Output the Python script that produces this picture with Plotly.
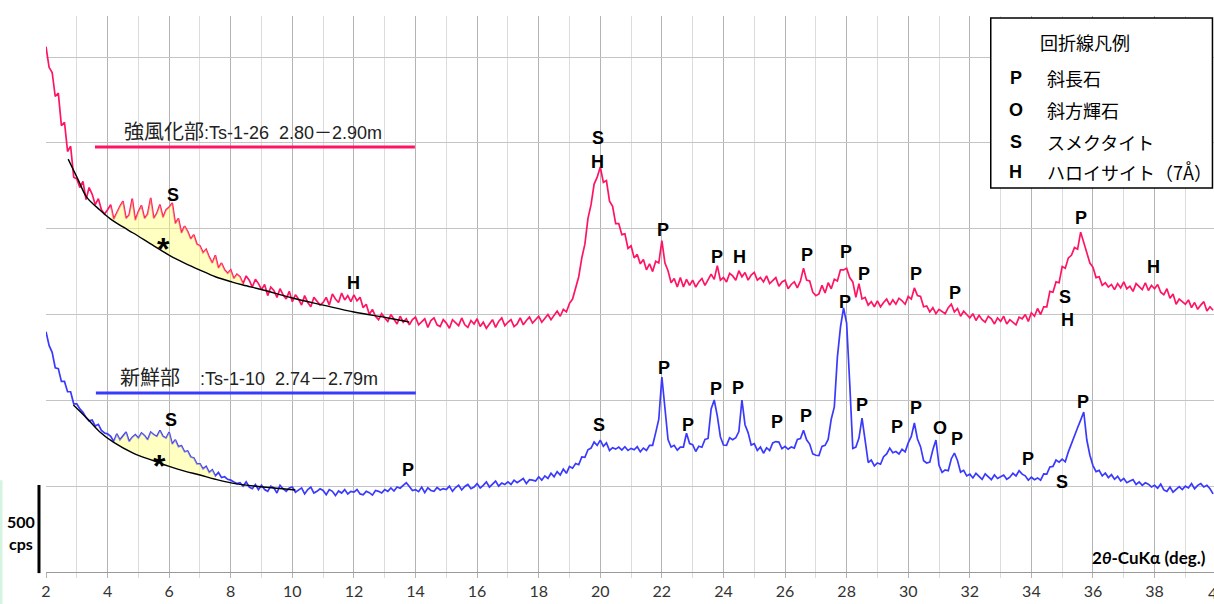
import numpy as np
import plotly.graph_objects as go

# --- scan geometry -------------------------------------------------------
TWO_THETA_START = 2.0
TWO_THETA_STEP = 0.1

# --- intensities (cps), 10 points per degree, 2.0 .. 39.9 deg -------------
weathered_cps = [
    3060, 2940, 2910, 2770, 2790, 2600, 2620, 2450, 2480, 2300,   # 2
    2290, 2240, 2275, 2170, 2240, 2200, 2140, 2175, 2110, 2085,   # 3
    2110, 2140, 2055, 2095, 2130, 2160, 2060, 2080, 2175, 2050,   # 4
    2100, 2135, 2060, 2085, 2180, 2060, 2090, 2140, 2065, 2110,   # 5
    2125, 2150, 2030, 2060, 1975, 2015, 1985, 1940, 1965, 1910,   # 6
    1900, 1860, 1880, 1835, 1800, 1845, 1770, 1800, 1760, 1740,   # 7
    1760, 1710, 1735, 1720, 1680, 1725, 1700, 1660, 1705, 1680,   # 8
    1645, 1675, 1610, 1660, 1640, 1600, 1650, 1615, 1590, 1635,   # 9
    1575, 1615, 1590, 1555, 1610, 1570, 1545, 1600, 1580, 1555,   # 10
    1570, 1600, 1555, 1620, 1590, 1570, 1625, 1585, 1610, 1575,   # 11
    1615, 1580, 1600, 1540, 1560, 1500, 1530, 1490, 1470, 1505,   # 12
    1480, 1460, 1500, 1470, 1445, 1490, 1455, 1475, 1440, 1470,   # 13
    1485, 1440, 1455, 1475, 1425, 1465, 1480, 1440, 1430, 1470,   # 14
    1450, 1420, 1470, 1455, 1435, 1480, 1440, 1425, 1465, 1445,   # 15
    1475, 1430, 1455, 1420, 1445, 1470, 1425, 1460, 1480, 1435,   # 16
    1455, 1470, 1430, 1445, 1480, 1440, 1465, 1485, 1450, 1470,   # 17
    1490, 1455, 1475, 1500, 1470, 1495, 1520, 1490, 1530, 1515,   # 18
    1565, 1590, 1650, 1720, 1830, 1910, 2060, 2140, 2260, 2300,   # 19
    2360, 2270, 2280, 2160, 2130, 2030, 2030, 1965, 1970, 1885,   # 20
    1900, 1830, 1850, 1795, 1820, 1760, 1795, 1750, 1810, 1800,   # 21
    1930, 1800, 1755, 1685, 1710, 1660, 1715, 1660, 1705, 1670,   # 22
    1700, 1660, 1690, 1710, 1670, 1700, 1735, 1705, 1785, 1700,   # 23
    1715, 1690, 1740, 1725, 1700, 1755, 1720, 1745, 1700, 1730,   # 24
    1745, 1700, 1715, 1690, 1725, 1680, 1700, 1715, 1665, 1690,   # 25
    1700, 1650, 1675, 1690, 1655, 1695, 1770, 1700, 1695, 1630,   # 26
    1610, 1620, 1670, 1625, 1685, 1650, 1705, 1695, 1760, 1760,   # 27
    1770, 1715, 1690, 1600, 1680, 1590, 1600, 1555, 1575, 1545,   # 28
    1580, 1545, 1570, 1590, 1555, 1585, 1560, 1595, 1580, 1560,   # 29
    1605, 1590, 1655, 1610, 1605, 1545, 1550, 1515, 1540, 1505,   # 30
    1530, 1520, 1505, 1540, 1560, 1515, 1535, 1490, 1520, 1500,   # 31
    1480, 1505, 1465, 1495, 1470, 1455, 1490, 1475, 1445, 1480,   # 32
    1460, 1490, 1445, 1470, 1455, 1440, 1485, 1475, 1500, 1460,   # 33
    1510, 1490, 1535, 1500, 1545, 1545, 1635, 1630, 1690, 1685,   # 34
    1780, 1770, 1830, 1845, 1890, 1880, 1980, 1920, 1875, 1800,   # 35
    1775, 1715, 1720, 1670, 1685, 1660, 1675, 1645, 1680, 1655,   # 36
    1690, 1650, 1665, 1635, 1680, 1660, 1645, 1685, 1640, 1670,   # 37
    1650, 1675, 1630, 1615, 1650, 1595, 1620, 1560, 1590, 1575,   # 38
    1560, 1585, 1540, 1570, 1530, 1555, 1575, 1520, 1545, 1525,   # 39
]

fresh_cps = [
    1400, 1320, 1280, 1190, 1185, 1110, 1110, 1050, 1050, 980,    # 2
    980, 950, 930, 900, 880, 885, 850, 860, 825, 810,             # 3
    805, 790, 760, 805, 770, 790, 815, 760, 785, 800,             # 4
    780, 810, 795, 770, 815, 800, 790, 825, 790, 780,             # 5
    815, 745, 770, 730, 735, 700, 705, 670, 665, 630,             # 6
    630, 600, 615, 580, 595, 560, 580, 550, 555, 540,             # 7
    535, 525, 515, 520, 500, 525, 495, 485, 510, 480,             # 8
    505, 480, 470, 500, 490, 460, 505, 485, 470, 490,             # 9
    495, 465, 475, 490, 455, 480, 495, 460, 470, 485,             # 10
    475, 450, 480, 470, 445, 472, 460, 480, 455, 470,             # 11
    465, 480, 455, 450, 470, 462, 448, 475, 470, 460,             # 12
    480, 470, 490, 472, 495, 488, 505, 520, 498, 475,             # 13
    480, 468, 495, 462, 490, 475, 470, 492, 478, 485,             # 14
    480, 500, 470, 492, 505, 478, 498, 510, 485, 495,             # 15
    515, 490, 505, 525, 495, 512, 530, 500, 518, 510,             # 16
    525, 510, 535, 520, 530, 545, 515, 538, 535, 530,             # 17
    555, 535, 560, 545, 575, 555, 585, 565, 600, 575,             # 18
    615, 605, 632, 625, 670, 668, 712, 722, 757, 738,             # 19
    768, 732, 752, 708, 724, 716, 728, 710, 730, 708,             # 20
    720, 712, 730, 700, 722, 708, 738, 738, 812, 890,             # 21
    1136, 940, 772, 728, 738, 710, 728, 728, 808, 748,            # 22
    742, 702, 733, 727, 772, 778, 950, 1002, 910, 788,            # 23
    740, 738, 782, 770, 782, 818, 1002, 858, 812, 740,            # 24
    748, 708, 728, 692, 724, 708, 752, 760, 757, 718,             # 25
    732, 715, 728, 722, 772, 778, 826, 770, 745, 688,             # 26
    680, 678, 732, 738, 772, 890, 962, 1252, 1427, 1538,          # 27
    1450, 1101, 720, 728, 780, 897, 760, 638, 652, 618,           # 28
    635, 628, 672, 688, 722, 695, 702, 688, 715, 700,             # 29
    752, 790, 868, 775, 730, 648, 635, 640, 712, 769,             # 30
    622, 580, 595, 590, 660, 693, 650, 582, 592, 560,             # 31
    570, 548, 575, 560, 540, 572, 555, 538, 565, 545,             # 32
    555, 565, 540, 552, 575, 560, 590, 570, 560, 535,             # 33
    552, 538, 548, 535, 572, 570, 612, 615, 652, 640,             # 34
    657, 642, 700, 750, 796, 840, 885, 932, 769, 680,             # 35
    620, 585, 592, 560, 577, 550, 567, 540, 557, 530,             # 36
    545, 520, 530, 538, 510, 525, 505, 520, 512, 495,             # 37
    505, 488, 512, 478, 470, 495, 465, 480, 497, 480,             # 38
    500, 490, 515, 485, 505, 515, 495, 505, 485, 455,             # 39
]

# hand-drawn background curves under the low-angle smectite hump
weathered_bg_deg = [2.72, 3.05, 3.32, 3.75, 4.1, 4.5, 4.83, 5.5, 6.05, 6.5,
                    7.0, 7.5, 8.05, 8.4, 9.05, 10.0, 11.0, 12.0, 13.1, 13.8]
weathered_bg_cps = [2405, 2283, 2184, 2109, 2056, 2010, 1975, 1900, 1840, 1800,
                    1759, 1720, 1689, 1672, 1643, 1596, 1555, 1515, 1480, 1456]
fresh_bg_deg = [2.89, 3.32, 3.75, 4.2, 4.83, 5.5, 6.05, 6.5, 7.0, 7.5,
                8.05, 9.05, 10.1]
fresh_bg_cps = [973, 897, 816, 755, 693, 648, 612, 588, 565, 540,
                518, 495, 478]

# shaded hump ranges (deg)
weathered_hump = (4.1, 8.4)
fresh_hump = (4.2, 7.5)

# mineral peak marks: (letter, 2theta, cps position of the letter)
weathered_marks = [
    ("S", 6.12, 2196), ("H", 11.97, 1683), ("S", 19.92, 2528), ("H", 19.92, 2388),
    ("P", 22.03, 1992), ("P", 23.79, 1835), ("H", 24.53, 1835), ("P", 26.71, 1847),
    ("P", 27.97, 1864), ("P", 28.56, 1736), ("P", 30.25, 1736), ("P", 31.51, 1625),
    ("P", 35.6, 2062), ("H", 37.97, 1777), ("S", 35.08, 1602), ("H", 35.18, 1468),
]
fresh_marks = [
    ("S", 6.06, 885), ("P", 13.75, 594), ("S", 19.95, 856), ("P", 22.06, 1188),
    ("P", 22.84, 856), ("P", 23.75, 1066), ("P", 24.47, 1072), ("P", 25.73, 874),
    ("P", 26.68, 909), ("P", 27.94, 1573), ("P", 28.49, 973), ("P", 29.63, 845),
    ("P", 30.25, 955), ("O", 31.03, 839), ("P", 31.58, 775), ("P", 33.88, 658),
    ("S", 34.99, 524), ("P", 35.67, 990),
]

legend_title = "回折線凡例"
legend_rows = [("P", "斜長石"), ("O", "斜方輝石"), ("S", "スメクタイト"), ("H", "ハロイサイト（7Å）")]

x_ticks = list(range(2, 40, 2))

PINK = "#ff1464"
BLUE = "#3a3aff"
FILL = "rgba(255,255,120,0.45)"
LATIN = "Liberation Sans, Arial, sans-serif"
JP = "Noto Sans CJK JP"
TICKFONT = "Lato, sans-serif"

theta = np.round(TWO_THETA_START + TWO_THETA_STEP * np.arange(len(weathered_cps)), 1)
w = np.array(weathered_cps, dtype=float)
f = np.array(fresh_cps, dtype=float)

fig = go.Figure()

fig.add_trace(go.Scatter(x=theta, y=w, mode="lines", line=dict(color=PINK, width=1.7),
                         hoverinfo="skip"))
fig.add_trace(go.Scatter(x=theta, y=f, mode="lines", line=dict(color=BLUE, width=1.7),
                         hoverinfo="skip"))


def hump_polygon(x, y, bx, by, lo, hi):
    m = (x >= lo - 1e-9) & (x <= hi + 1e-9)
    bx = np.array(bx)
    by = np.array(by)
    bm = (bx >= lo - 1e-9) & (bx <= hi + 1e-9)
    px = np.concatenate([x[m], bx[bm][::-1]])
    py = np.concatenate([y[m], by[bm][::-1]])
    return px, py


for (y, bx, by, rng) in [(w, weathered_bg_deg, weathered_bg_cps, weathered_hump),
                         (f, fresh_bg_deg, fresh_bg_cps, fresh_hump)]:
    px, py = hump_polygon(theta, y, bx, by, *rng)
    fig.add_trace(go.Scatter(x=px, y=py, mode="none", fill="toself", fillcolor=FILL,
                             hoverinfo="skip"))
    fig.add_trace(go.Scatter(x=bx, y=by, mode="lines", line=dict(color="black", width=1.4,
                             shape="spline"), hoverinfo="skip"))

ann = []
for letter, xx, yy in weathered_marks + fresh_marks:
    ann.append(dict(x=xx, y=yy, text=f"<b>{letter}</b>", showarrow=False,
                    font=dict(family=LATIN, size=18, color="black")))

# asterisks on the shaded humps
for xx, yy in [(5.8, 1934), (5.7, 670)]:
    ann.append(dict(x=xx, y=yy, text="<b>*</b>", showarrow=False, yshift=-9,
                    font=dict(family=LATIN, size=32, color="black")))

# sample captions with coloured keys
nb = "\u00a0"
ann.append(dict(x=4.47, y=2563, xanchor="left", showarrow=False,
                text=f"<span style='font-size:20px'>強風化部</span>:Ts-1-26{nb}{nb}2.80－2.90m",
                font=dict(family=f"{LATIN}, {JP}", size=18, color="#222")))
ann.append(dict(x=4.34, y=1130, xanchor="left", showarrow=False,
                text=f"<span style='font-size:20px'>新鮮部</span>{nb}{nb}{nb}{nb}:Ts-1-10{nb}{nb}2.74－2.79m",
                font=dict(family=f"{LATIN}, {JP}", size=18, color="#222")))

shapes = [
    dict(type="line", x0=3.59, x1=13.98, y0=2476, y1=2476, line=dict(color=PINK, width=3)),
    dict(type="line", x0=3.62, x1=14.01, y0=1043, y1=1043, line=dict(color=BLUE, width=3)),
    # legend frame
    dict(type="rect", x0=32.68, x1=39.88, y0=2237, y1=3227, fillcolor="white",
         line=dict(color="black", width=1.5), layer="above"),
    # 500 cps scale bar
    dict(type="line", xref="paper", yref="paper", x0=-0.006, x1=-0.006, y0=-0.002, y1=0.1565,
         line=dict(color="black", width=3)),
    dict(type="line", xref="paper", yref="paper", x0=-0.0385, x1=-0.0385, y0=-0.06, y1=0.165,
         line=dict(color="#d4f3e0", width=3)),
]

ann.append(dict(x=35.73, y=3087, text=legend_title, showarrow=False,
                font=dict(family=JP, size=18, color="black")))
for (letter, name), yy in zip(legend_rows, [2878, 2691, 2505, 2330]):
    ann.append(dict(x=33.49, y=yy, text=f"<b>{letter}</b>", showarrow=False,
                    font=dict(family=LATIN, size=18, color="black")))
    ann.append(dict(x=34.44, y=yy, text=name, xanchor="left", showarrow=False,
                    font=dict(family=JP, size=18, color="black")))

ann.append(dict(x=39.73, y=87, xanchor="right", showarrow=False,
                text="<b>2<i>θ</i>-CuKα (deg.)</b>",
                font=dict(family=TICKFONT, size=17, color="black")))
ann.append(dict(xref="paper", yref="paper", x=-0.0218, y=0.09, xanchor="center",
                yanchor="middle", text="<b>500</b>",
                showarrow=False, font=dict(family=TICKFONT, size=16, color="black")))
ann.append(dict(xref="paper", yref="paper", x=-0.0218, y=0.052, xanchor="center",
                yanchor="middle", text="<b>cps</b>",
                showarrow=False, font=dict(family=TICKFONT, size=16, color="black")))
# the 40 deg label sits at the right edge of the page
ann.append(dict(xref="paper", yref="paper", x=1.0026, y=-0.036, xanchor="center",
                yanchor="middle", text="40", showarrow=False,
                font=dict(family=TICKFONT, size=16, color="#333")))

fig.update_layout(
    width=1214, height=604,
    margin=dict(l=46, r=0, t=16, b=32),
    paper_bgcolor="white", plot_bgcolor="white",
    showlegend=False,
    annotations=ann, shapes=shapes,
    xaxis=dict(range=[2, 39.93], tickvals=x_ticks, showgrid=True, gridcolor="#b4b4b4",
               gridwidth=1, zeroline=False, showline=True, linecolor="#9a9a9a",
               ticks="outside", ticklen=5, tickcolor="#b4b4b4",
               tickfont=dict(family=TICKFONT, size=16, color="#333"),
               minor=dict(tickmode="linear", tick0=2, dtick=1, showgrid=True,
                          gridcolor="#dcdcdc", ticks="outside", ticklen=5, tickcolor="#dcdcdc")),
    yaxis=dict(range=[0, 3239], tickvals=[0, 500, 1000, 1500, 2000, 2500, 3000],
               showticklabels=False, showgrid=True, gridcolor="#c4c4c4",
               zeroline=False, showline=False, ticks=""),
)

fig.write_html("out.html")
